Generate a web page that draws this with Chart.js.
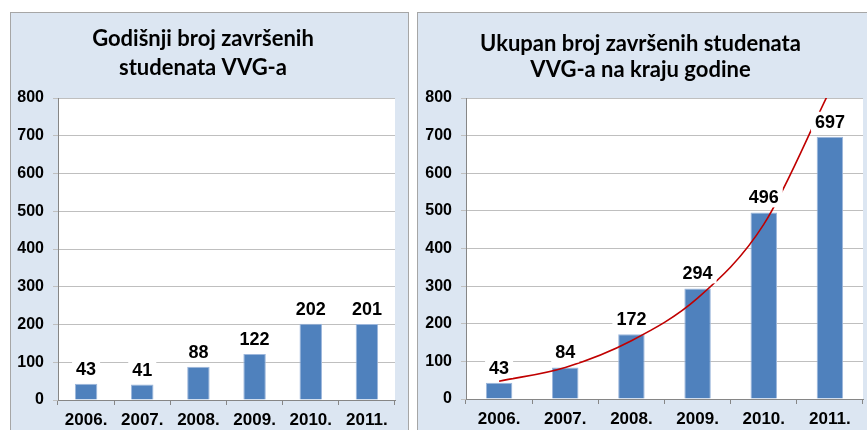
<!DOCTYPE html>
<html>
<head>
<meta charset="utf-8">
<script src="https://cdn.jsdelivr.net/npm/chart.js@4/dist/chart.umd.min.js"></script>
<style>
  html, body { margin: 0; padding: 0; background: #ffffff; overflow: hidden; width: 867px; height: 430px; }
  .panel {
    position: absolute;
    top: 12px;
    height: 440px;
    box-sizing: border-box;
    border: 1px solid #a6a6a6;
    background: #dce6f2;
  }
  #left-panel { left: 10px; width: 399px; }
  #right-panel { left: 417px; width: 480px; }
  canvas { display: block; }
</style>
</head>
<body>
<div class="panel" id="left-panel"><canvas id="annualChart" width="397" height="417"></canvas></div>
<div class="panel" id="right-panel"><canvas id="totalChart" width="470" height="417"></canvas></div>
<script>
// 데이터
const years = ['2006.', '2007.', '2008.', '2009.', '2010.', '2011.'];
const annualGraduates = [43, 41, 88, 122, 202, 201];
const totalGraduates = [43, 84, 172, 294, 496, 697];
// 오른쪽 그림의 빨간 추세선
const trendValues = [47, 84, 155, 268, 464, 820];
const yTicks = [0, 100, 200, 300, 400, 500, 600, 700, 800];

const barColor = '#4f81bd';
const gridColor = '#bfbfbf';
const axisColor = '#868686';

// plot area white background
const plotBackground = {
  id: 'plotBackground',
  beforeDraw(chart) {
    const a = chart.chartArea;
    const ctx = chart.ctx;
    ctx.save();
    ctx.fillStyle = '#ffffff';
    ctx.fillRect(a.left, a.top, a.right - a.left, a.bottom - a.top);
    ctx.restore();
  }
};

// value labels above the bars (white box behind)
const barLabels = {
  id: 'barLabels',
  afterDatasetsDraw(chart) {
    const ctx = chart.ctx;
    chart.data.datasets.forEach((ds, i) => {
      if (ds.type !== 'bar') return;
      const meta = chart.getDatasetMeta(i);
      ctx.save();
      ctx.font = 'bold 18px "Liberation Sans", Arial, sans-serif';
      ctx.textAlign = 'center';
      ctx.textBaseline = 'alphabetic';
      meta.data.forEach((bar, j) => {
        const text = String(ds.data[j]);
        const w = ctx.measureText(text).width;
        const base = bar.y - 9;
        ctx.fillStyle = '#ffffff';
        ctx.fillRect(bar.x - w / 2 - 4, base - 16, w + 8, 20);
        ctx.fillStyle = '#000000';
        ctx.fillText(text, bar.x, base);
      });
      ctx.restore();
    });
  }
};

function makeOptions(titleLines, titleLineHeight, titlePadTop, titlePadBottom, rightPad, xHeight) {
  return {
    responsive: false,
    animation: false,
    layout: { padding: { top: 0, right: rightPad, bottom: 0, left: 0 } },
    plugins: {
      legend: { display: false },
      tooltip: { enabled: false },
      title: {
        display: true,
        text: titleLines,
        color: '#000000',
        font: { family: 'Lato, "Open Sans", sans-serif', size: 22, weight: 'bold', lineHeight: titleLineHeight },
        padding: { top: titlePadTop, bottom: titlePadBottom }
      }
    },
    scales: {
      x: {
        offset: true,
        grid: { display: true, drawOnChartArea: false, drawTicks: true, tickLength: 5, color: axisColor },
        border: { display: true, color: axisColor, width: 1 },
        ticks: {
          color: '#000000',
          padding: 5,
          font: { family: '"Liberation Sans", Arial, sans-serif', size: 17, weight: 'bold' }
        },
        afterFit(scale) { scale.height = xHeight; }
      },
      y: {
        min: 0,
        max: 800,
        afterBuildTicks(scale) { scale.ticks = yTicks.map(v => ({ value: v })); },
        grid: { color: gridColor, tickLength: 5, tickColor: gridColor },
        border: { display: true, color: axisColor, width: 1 },
        ticks: {
          color: '#000000',
          padding: 9,
          font: { family: '"Liberation Sans", Arial, sans-serif', size: 16, weight: 'bold' }
        },
        afterFit(scale) { scale.width = scale.chart.canvas.id === 'annualChart' ? 47 : 48; }
      }
    }
  };
}

// 왼쪽: 연간 졸업생 수
new Chart(document.getElementById('annualChart'), {
  type: 'bar',
  data: {
    labels: years,
    datasets: [{
      type: 'bar',
      data: annualGraduates,
      backgroundColor: barColor,
      borderColor: '#9db7dc',
      borderWidth: 1,
      barPercentage: 0.4,
      categoryPercentage: 1.0
    }]
  },
  options: makeOptions(['Godišnji broj završenih', 'studenata VVG-a'], '29.5px', 11, 15, 13, 30),
  plugins: [plotBackground, barLabels]
});

// 오른쪽: 누적 졸업생 수 + 추세선
new Chart(document.getElementById('totalChart'), {
  type: 'bar',
  data: {
    labels: years,
    datasets: [{
      type: 'line',
      data: trendValues,
      borderColor: '#c00000',
      borderWidth: 1.6,
      pointRadius: 0,
      fill: false,
      cubicInterpolationMode: 'monotone',
      clip: 0,
      order: 0
    }, {
      type: 'bar',
      data: totalGraduates,
      backgroundColor: barColor,
      borderColor: '#9db7dc',
      borderWidth: 1,
      barPercentage: 0.4,
      categoryPercentage: 1.0,
      order: 1
    }]
  },
  options: makeOptions(['Ukupan broj završenih studenata', 'VVG-a na kraju godine'], '26px', 18, 15, 25, 31),
  plugins: [plotBackground, barLabels]
});
</script>
</body>
</html>
